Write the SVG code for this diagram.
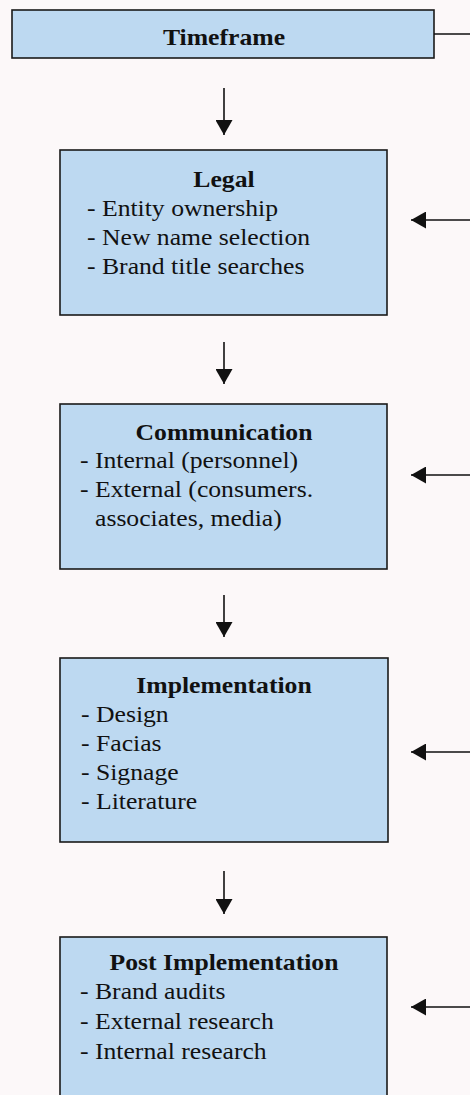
<svg xmlns="http://www.w3.org/2000/svg" width="470" height="1095" viewBox="0 0 470 1095">
  <style>
    .box { fill: #bdd9f1; stroke: #1a1a1a; stroke-width: 1.6; }
    .t { font-family: "Liberation Serif", "Times New Roman", serif; font-size: 24px; fill: #111; }
    .h { font-weight: bold; text-anchor: middle; }
    .wire { stroke: #111; stroke-width: 1.6; fill: none; }
  </style>
  <defs>
    <marker id="head" markerUnits="userSpaceOnUse" markerWidth="16" markerHeight="17" viewBox="0 0 16 17" refX="15" refY="8.5" orient="auto">
      <path d="M0,0 L15,8.5 L0,17 Z" fill="#111"/>
    </marker>
  </defs>
  <rect width="470" height="1095" fill="#fcf8f9"/>

  <g id="timeframe">
    <rect class="box" x="12" y="10" width="422" height="48"/>
    <text class="t h" transform="translate(224,45) scale(1.07,1)">Timeframe</text>
  </g>

  <g id="legal">
    <rect class="box" x="60" y="150" width="327" height="165"/>
    <text class="t h" transform="translate(224,187) scale(1.07,1)">Legal</text>
    <text class="t" transform="translate(87,216) scale(1.07,1)">- Entity ownership</text>
    <text class="t" transform="translate(87,245) scale(1.07,1)">- New name selection</text>
    <text class="t" transform="translate(87,274) scale(1.07,1)">- Brand title searches</text>
  </g>

  <g id="communication">
    <rect class="box" x="60" y="404" width="327" height="165"/>
    <text class="t h" transform="translate(224,440) scale(1.07,1)">Communication</text>
    <text class="t" transform="translate(80,468) scale(1.07,1)">- Internal (personnel)</text>
    <text class="t" transform="translate(80,497) scale(1.07,1)">- External (consumers.</text>
    <text class="t" transform="translate(95,526) scale(1.07,1)">associates, media)</text>
  </g>

  <g id="implementation">
    <rect class="box" x="60" y="658" width="328" height="184"/>
    <text class="t h" transform="translate(224,693) scale(1.07,1)">Implementation</text>
    <text class="t" transform="translate(81,722) scale(1.07,1)">- Design</text>
    <text class="t" transform="translate(81,751) scale(1.07,1)">- Facias</text>
    <text class="t" transform="translate(81,780) scale(1.07,1)">- Signage</text>
    <text class="t" transform="translate(81,809) scale(1.07,1)">- Literature</text>
  </g>

  <g id="post-implementation">
    <rect class="box" x="60" y="937" width="327" height="170"/>
    <text class="t h" transform="translate(224,970) scale(1.07,1)">Post Implementation</text>
    <text class="t" transform="translate(80,999) scale(1.07,1)">- Brand audits</text>
    <text class="t" transform="translate(80,1029) scale(1.07,1)">- External research</text>
    <text class="t" transform="translate(80,1059) scale(1.07,1)">- Internal research</text>
  </g>

  <g id="connectors">
    <line class="wire" x1="434" y1="34" x2="470" y2="34"/>
    <line class="wire" x1="224" y1="88" x2="224" y2="135" marker-end="url(#head)"/>
    <line class="wire" x1="224" y1="342" x2="224" y2="384" marker-end="url(#head)"/>
    <line class="wire" x1="224" y1="595" x2="224" y2="637" marker-end="url(#head)"/>
    <line class="wire" x1="224" y1="871" x2="224" y2="914" marker-end="url(#head)"/>
    <line class="wire" x1="472" y1="220" x2="411" y2="220" marker-end="url(#head)"/>
    <line class="wire" x1="472" y1="475" x2="411" y2="475" marker-end="url(#head)"/>
    <line class="wire" x1="472" y1="752" x2="411" y2="752" marker-end="url(#head)"/>
    <line class="wire" x1="472" y1="1007" x2="411" y2="1007" marker-end="url(#head)"/>
  </g>
</svg>
